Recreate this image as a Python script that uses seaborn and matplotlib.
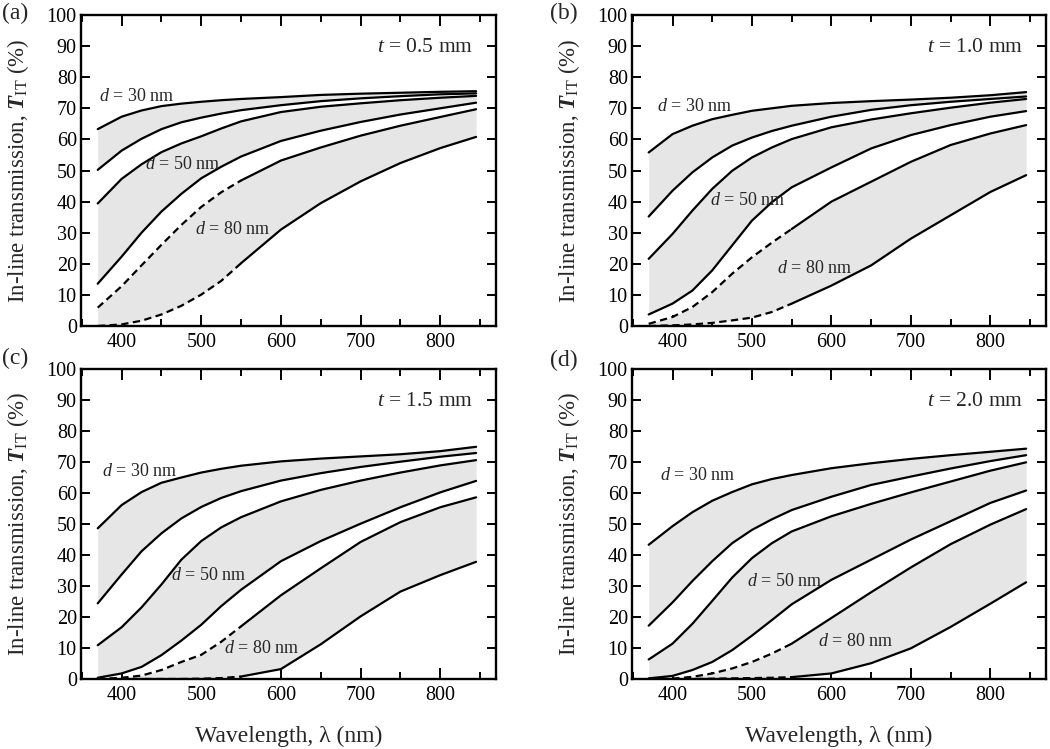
import matplotlib
matplotlib.use("Agg")
import matplotlib.pyplot as plt
import seaborn as sns
import numpy as np
import pandas as pd
from matplotlib.ticker import MultipleLocator

# ---------------- data ----------------
wavelength = [370, 400, 425, 450, 475, 500, 525, 550, 600, 650, 700, 750, 800, 845]

# panel (a) t = 0.5 mm
a_30_hi = [63.3, 67.3, 69.3, 70.7, 71.5, 72.1, 72.6, 73.0, 73.6, 74.3, 74.7, 75.0, 75.3, 75.5]
a_30_lo = [50.2, 56.4, 60.2, 63.3, 65.5, 67.0, 68.3, 69.4, 71.0, 72.3, 73.2, 73.9, 74.5, 74.8]
a_50_hi = [39.4, 47.3, 52.0, 55.9, 58.7, 61.0, 63.5, 65.8, 68.8, 70.5, 71.6, 72.6, 73.4, 74.0]
a_50_lo = [13.6, 22.3, 30.0, 36.8, 42.5, 47.5, 51.2, 54.5, 59.5, 62.8, 65.6, 68.0, 70.0, 71.8]
a_80_hi = [5.9, 12.8, 19.5, 26.1, 32.5, 38.3, 43.0, 46.8, 53.2, 57.4, 61.2, 64.4, 67.2, 69.7]
a_80_lo = [0.0, 0.5, 1.7, 3.7, 6.5, 10.1, 14.5, 20.2, 31.0, 39.5, 46.5, 52.4, 57.2, 60.8]

# panel (b) t = 1.0 mm
b_30_hi = [55.8, 61.7, 64.4, 66.5, 67.9, 69.2, 70.0, 70.8, 71.7, 72.3, 72.8, 73.4, 74.2, 75.2]
b_30_lo = [35.2, 43.5, 49.4, 54.2, 58.0, 60.6, 62.7, 64.4, 67.3, 69.5, 71.0, 72.1, 73.0, 73.8]
b_50_hi = [21.6, 29.6, 37.1, 44.1, 49.9, 54.2, 57.4, 60.1, 63.9, 66.4, 68.4, 70.2, 71.8, 73.0]
b_50_lo = [3.7, 7.2, 11.4, 17.9, 25.9, 33.9, 39.8, 44.6, 51.0, 57.1, 61.4, 64.6, 67.3, 69.1]
b_80_hi = [0.7, 2.9, 6.1, 10.9, 16.8, 22.1, 26.8, 31.2, 40.0, 46.4, 52.8, 58.2, 61.9, 64.6]
b_80_lo = [0.0, 0.2, 0.5, 1.0, 1.8, 2.7, 4.5, 7.2, 13.0, 19.5, 28.1, 35.6, 43.1, 48.5]

# panel (c) t = 1.5 mm
c_30_hi = [48.6, 56.1, 60.3, 63.3, 65.0, 66.6, 67.8, 68.8, 70.2, 71.1, 71.8, 72.5, 73.5, 74.9]
c_30_lo = [24.4, 33.7, 41.2, 47.0, 51.8, 55.5, 58.4, 60.6, 64.0, 66.4, 68.4, 70.1, 71.7, 72.9]
c_50_hi = [10.9, 16.7, 23.1, 30.5, 38.5, 44.5, 48.9, 52.2, 57.3, 61.0, 64.0, 66.6, 68.9, 70.6]
c_50_lo = [0.4, 1.8, 3.9, 7.7, 12.4, 17.5, 23.5, 28.8, 38.0, 44.5, 50.1, 55.4, 60.2, 63.9]
c_80_hi = [0.0, 0.4, 1.1, 2.9, 5.5, 7.8, 12.0, 17.0, 27.0, 35.7, 44.2, 50.6, 55.4, 58.6]
c_80_lo = [0.0, 0.0, 0.0, 0.0, 0.0, 0.1, 0.3, 0.8, 3.2, 11.2, 20.2, 28.2, 33.5, 37.8]

# panel (d) t = 2.0 mm
d_30_hi = [43.3, 49.3, 53.8, 57.5, 60.3, 62.8, 64.5, 65.8, 68.0, 69.6, 71.0, 72.2, 73.3, 74.3]
d_30_lo = [17.2, 24.7, 31.6, 38.0, 43.8, 48.1, 51.5, 54.5, 58.8, 62.6, 65.3, 67.9, 70.3, 72.2]
d_50_hi = [6.3, 11.4, 17.8, 25.2, 32.7, 39.0, 43.8, 47.6, 52.5, 56.5, 60.2, 63.7, 67.2, 69.9]
d_50_lo = [0.2, 1.0, 2.9, 5.5, 9.3, 14.0, 19.0, 24.1, 32.0, 38.5, 45.0, 50.9, 56.8, 60.8]
d_80_hi = [0.0, 0.1, 0.7, 1.8, 3.4, 5.5, 8.2, 11.4, 19.7, 28.0, 36.0, 43.5, 49.8, 54.8]
d_80_lo = [0.0, 0.0, 0.0, 0.1, 0.2, 0.3, 0.4, 0.6, 1.8, 5.1, 9.9, 16.8, 24.3, 31.2]

panel_letters = ["(a)", "(b)", "(c)", "(d)"]
thickness_labels = ["0.5", "1.0", "1.5", "2.0"]
size_labels = ["30", "50", "80"]
dash_limit = 550  # d = 80 nm curves are dashed below this wavelength

panels = [
    [a_30_hi, a_30_lo, a_50_hi, a_50_lo, a_80_hi, a_80_lo],
    [b_30_hi, b_30_lo, b_50_hi, b_50_lo, b_80_hi, b_80_lo],
    [c_30_hi, c_30_lo, c_50_hi, c_50_lo, c_80_hi, c_80_lo],
    [d_30_hi, d_30_lo, d_50_hi, d_50_lo, d_80_hi, d_80_lo],
]

# ---------------- style ----------------
sns.set_style("ticks")
plt.rcParams["font.family"] = ["Liberation Serif", "DejaVu Serif"]
plt.rcParams["mathtext.fontset"] = "custom"
plt.rcParams["mathtext.rm"] = "Liberation Serif"
plt.rcParams["mathtext.it"] = "Liberation Serif:italic"
plt.rcParams["mathtext.bf"] = "Liberation Serif:bold"
plt.rcParams["mathtext.bfit"] = "Liberation Serif:bold:italic"

fig = plt.figure(figsize=(10.5, 7.49), dpi=100)

W, H = 1050.0, 749.0
boxes = [(81, 15, 496, 326), (632, 15, 1046, 326),
         (81, 369, 496, 679), (632, 369, 1046, 679)]

# label positions (data coords) for d annotations per panel
d_label_pos = [
    [(372, 73.8), (429, 52.0), (492, 31.0)],
    [(380, 70.5), (447, 40.2), (532, 18.5)],
    [(375, 66.9), (462, 33.5), (528, 9.8)],
    [(384, 65.8), (494, 31.5), (583, 12.0)],
]
letter_pos = [(15, 13), (564, 13), (15, 358), (564, 360)]

grey = "#e6e6e6"
lw = 1.6
dash = (0, (3.3, 2.0))

x = np.array(wavelength, dtype=float)
for i, (curves, box) in enumerate(zip(panels, boxes)):
    l, t, r, b = box
    ax = fig.add_axes([l / W, 1 - b / H, (r - l) / W, (b - t) / H])
    ys = [np.array(c, dtype=float) for c in curves]
    for k in range(3):
        ax.fill_between(x, ys[2 * k], ys[2 * k + 1], color=grey, lw=0, zorder=1)
    for j, y in enumerate(ys):
        df = pd.DataFrame({"wl": x, "T": y})
        if j >= 4:
            dfd = df[df["wl"] <= dash_limit]
            dfs = df[df["wl"] >= dash_limit]
            sns.lineplot(data=dfd, x="wl", y="T", ax=ax, color="black", lw=lw,
                         linestyle=dash, zorder=3)
            sns.lineplot(data=dfs, x="wl", y="T", ax=ax, color="black", lw=lw,
                         zorder=3)
        else:
            sns.lineplot(data=df, x="wl", y="T", ax=ax, color="black", lw=lw, zorder=3)

    ax.set_xlim(349, 870)
    ax.set_ylim(0, 100)
    ax.set_xlabel("")
    ax.set_ylabel("")
    ax.xaxis.set_major_locator(MultipleLocator(100))
    ax.xaxis.set_minor_locator(MultipleLocator(50))
    ax.yaxis.set_major_locator(MultipleLocator(10))
    ax.tick_params(axis="both", which="both", direction="in", top=True, right=True,
                   width=1.4, colors="black", labelsize=14.5)
    ax.tick_params(axis="x", which="major", length=8, pad=5)
    ax.tick_params(axis="x", which="minor", length=5)
    ax.tick_params(axis="y", which="major", length=6.5, pad=3)
    for sp in ax.spines.values():
        sp.set_visible(True)
        sp.set_linewidth(1.7)
        sp.set_color("black")

    ax.text(0.945, 0.895, r"$t$ = " + thickness_labels[i] + " mm", transform=ax.transAxes,
            ha="right", va="center", fontsize=15.5)
    for (px, py), s in zip(d_label_pos[i], size_labels):
        ax.text(px, py, r"$d$ = " + s + " nm", ha="left", va="center", fontsize=13,
                zorder=4)
    ax.text(-0.152, 0.5, r"In-line transmission, $\mathbfit{T}_{\mathrm{IT}}$ (%)",
            transform=ax.transAxes, rotation=90, ha="center", va="center", fontsize=16.5)
    if i >= 2:
        ax.text(0.5, -0.184, "Wavelength, λ (nm)", transform=ax.transAxes,
                ha="center", va="center", fontsize=17)
    fig.text(letter_pos[i][0] / W, 1 - letter_pos[i][1] / H, panel_letters[i],
             ha="center", va="center", fontsize=17)

fig.savefig("out.png", dpi=100)
